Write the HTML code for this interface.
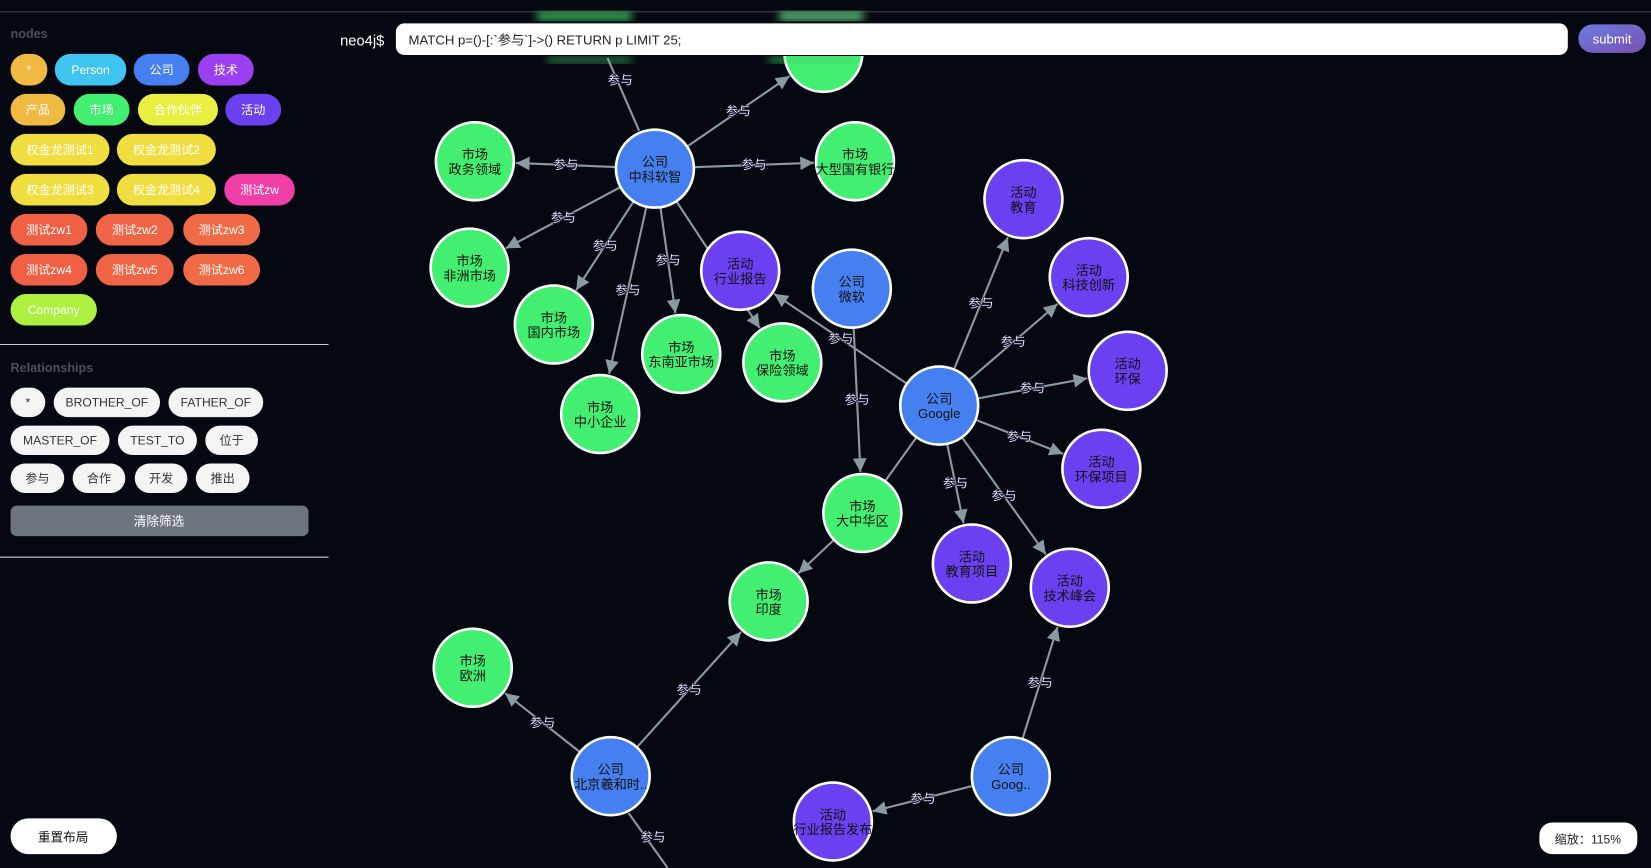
<!DOCTYPE html>
<html><head><meta charset="utf-8">
<style>
html,body{margin:0;padding:0;background:#050811;overflow:hidden}
svg{display:block}
text{font-family:"Liberation Sans","Noto Sans CJK SC",sans-serif}
</style></head>
<body>
<svg id="s" width="1651" height="868" viewBox="0 0 1568 824" xmlns="http://www.w3.org/2000/svg">
<defs>
<marker id="ar" viewBox="0 0 10 10" refX="10" refY="5" markerWidth="13" markerHeight="13" markerUnits="userSpaceOnUse" orient="auto"><path d="M0,0 L10,5 L0,10 z" fill="#8a9aa3"/></marker>
<filter id="bl"><feGaussianBlur stdDeviation="4"/></filter>
<clipPath id="cp"><rect x="0" y="53" width="1568" height="800"/></clipPath>
<linearGradient id="sg" x1="0" y1="0" x2="1" y2="1"><stop offset="0" stop-color="#6a7de0"/><stop offset="1" stop-color="#7a4fb0"/></linearGradient>
</defs>
<rect width="1568" height="824" fill="#050811"/>
<line x1="0" y1="11" x2="1568" y2="11" stroke="#2a2d3a" stroke-width="1.5"/>
<g id="edges"></g>
<g id="labels"></g>
<g id="nodes"></g>
<!-- glows -->
<rect x="510" y="11" width="90" height="8" fill="#3fd46a" filter="url(#bl)" opacity="0.9"/>
<rect x="740" y="11" width="80" height="8" fill="#6fe890" filter="url(#bl)" opacity="0.9"/>
<rect x="520" y="54" width="80" height="6" fill="#3fd46a" filter="url(#bl)" opacity="0.6"/>
<rect x="730" y="54" width="80" height="6" fill="#3fd46a" filter="url(#bl)" opacity="0.7"/>
<!-- top bar -->
<text x="323" y="43" fill="#fff" font-size="14">neo4j$</text>
<rect x="376" y="22" width="1113" height="30" rx="8" fill="#fff"/>
<text x="388" y="42" fill="#222" font-size="12.5">MATCH p=()-[:`参与`]-&gt;() RETURN p LIMIT 25;</text>
<rect x="1499" y="23" width="64" height="27" rx="13.5" fill="url(#sg)"/>
<text x="1531" y="41" fill="#fff" font-size="12.5" text-anchor="middle">submit</text>
<!-- sidebar -->
<text x="10" y="36" fill="#4a4f5a" font-size="12" font-weight="bold">nodes</text>
<g id="chips" font-size="11.5" text-anchor="middle"></g>
<line x1="0" y1="327" x2="312" y2="327" stroke="#ccc" stroke-width="1"/>
<text x="10" y="353" fill="#4a4f5a" font-size="12" font-weight="bold">Relationships</text>
<rect x="10" y="480" width="283" height="29" rx="6" fill="#6c757d"/>
<text x="151" y="499" fill="#fff" font-size="12" text-anchor="middle">清除筛选</text>
<line x1="0" y1="529" x2="312" y2="529" stroke="#ccc" stroke-width="1"/>
<rect x="10" y="777" width="101" height="34" rx="17" fill="#fff"/>
<text x="60" y="799" fill="#111" font-size="12" text-anchor="middle">重置布局</text>
<rect x="1462" y="781" width="93" height="30" rx="12" fill="#fff"/>
<text x="1508" y="801" fill="#222" font-size="11.5" text-anchor="middle">缩放：115%</text>
</svg>
<script>
var NS="http://www.w3.org/2000/svg";
function el(t,a,p,txt){var e=document.createElementNS(NS,t);for(var k in a)e.setAttribute(k,a[k]);if(txt!=null)e.textContent=txt;p.appendChild(e);return e;}
var chips=document.getElementById('chips');
var C=[
[10,45,51,'*','#f0b941'],[52,120,51,'Person','#40c4f0'],[127,180,51,'公司','#4680f0'],[188,241,51,'技术','#9b40f0'],
[10,62,89,'产品','#f0b941'],[70,123,89,'市场','#43ef70'],[131,207,89,'合作伙伴','#e8ef40'],[214,267,89,'活动','#6a40f0'],
[10,104,127,'权金龙测试1','#f0dd40'],[111,205,127,'权金龙测试2','#f0dd40'],
[10,104,165,'权金龙测试3','#f0dd40'],[111,205,165,'权金龙测试4','#f0dd40'],[213,280,165,'测试zw','#f040a8'],
[10,83,203,'测试zw1','#f06045'],[91,165,203,'测试zw2','#f06545'],[174,247,203,'测试zw3','#f06a45'],
[10,83,241,'测试zw4','#f06045'],[91,165,241,'测试zw5','#f06545'],[174,247,241,'测试zw6','#f06a45'],
[10,92,279,'Company','#aef040']];
C.forEach(function(c){el('rect',{x:c[0],y:c[2],width:c[1]-c[0],height:30,rx:15,fill:c[4]},chips);
el('text',{x:(c[0]+c[1])/2,y:c[2]+19,fill:'#fff'},chips,c[3]);});
var R=[[10,43,368,'*'],[51,152,368,'BROTHER_OF'],[160,250,368,'FATHER_OF'],
[10,104,404,'MASTER_OF'],[112,187,404,'TEST_TO'],[195,245,404,'位于'],
[10,61,440,'参与'],[69,119,440,'合作'],[128,178,440,'开发'],[186,237,440,'推出']];
R.forEach(function(c){el('rect',{x:c[0],y:c[2],width:c[1]-c[0],height:28,rx:14,fill:'#f4f4f4'},chips);
el('text',{x:(c[0]+c[1])/2,y:c[2]+18,fill:'#333'},chips,c[3]);});

var G='#43ef70',B='#4680f0',P='#6a40f0';
var N={
zk:[622,160,B,'公司','中科软智'],zw:[451,153,G,'市场','政务领域'],yh:[812,153,G,'市场','大型国有银行'],
tp:[782,50,G,'',''],fz:[446,254,G,'市场','非洲市场'],gn:[526,308,G,'市场','国内市场'],
dn:[647,336,G,'市场','东南亚市场'],zx:[570,393,G,'市场','中小企业'],hy:[703,257,P,'活动','行业报告'],
bx:[743,344,G,'市场','保险领域'],wr:[809,274,B,'公司','微软'],gg:[892,385,B,'公司','Google'],
jy:[972,189,P,'活动','教育'],kj:[1034,263,P,'活动','科技创新'],hb:[1071,352,P,'活动','环保'],
hx:[1046,445,P,'活动','环保项目'],jx:[923,535,P,'活动','教育项目'],js:[1016,558,P,'活动','技术峰会'],
dz:[819,487,G,'市场','大中华区'],yd:[730,571,G,'市场','印度'],oz:[449,634,G,'市场','欧洲'],
bj:[580,737,B,'公司','北京羲和时..'],g2:[960,737,B,'公司','Goog..'],fb:[791,780,P,'活动','行业报告发布']};
var r=37;
var E=[['zk','tp',1],['zk','zw',1],['zk','yh',1],['zk','fz',1],['zk','gn',1],['zk','zx',1],['zk','dn',1],['zk','bx',1],
['gg','hy',1],['wr','dz',1],['gg','dz',0,1],['gg','jy',1],['gg','kj',1],['gg','hb',1],['gg','hx',1],['gg','jx',1],['gg','js',1],
['dz','yd',0],['bj','yd',1],['bj','oz',1],['g2','js',1],['g2','fb',1]];
var eg=document.getElementById('edges'),lg=document.getElementById('labels'),ng=document.getElementById('nodes');
function lab(x,y){el('text',{x:x,y:y+4,'font-size':12,'font-weight':'bold','text-anchor':'middle',fill:'#fff',stroke:'#0a1030','stroke-width':0.6},lg,'参与');}
E.forEach(function(e){var a=N[e[0]],b=N[e[1]];var dx=b[0]-a[0],dy=b[1]-a[1],d=Math.sqrt(dx*dx+dy*dy);
var ux=dx/d,uy=dy/d;var x1=a[0]+ux*r,y1=a[1]+uy*r,x2=b[0]-ux*(r+2),y2=b[1]-uy*(r+2);
var at={x1:x1,y1:y1,x2:e[3]?b[0]-ux*r:x2,y2:e[3]?b[1]-uy*r:y2,stroke:'#8a9aa3','stroke-width':2};
if(!e[3])at['marker-end']='url(#ar)';el('line',at,eg);
if(e[2])lab((x1+x2)/2,(y1+y2)/2);});
el('line',{x1:577,y1:55,x2:607,y2:124,stroke:'#8a9aa3','stroke-width':2},eg);lab(589,76);
el('line',{x1:597,y1:772,x2:634,y2:824,stroke:'#8a9aa3','stroke-width':2},eg);lab(620,795);
for(var k in N){var n=N[k];var a={cx:n[0],cy:n[1],r:r,fill:n[2],stroke:'#fff','stroke-width':2.5};
if(k==='tp')a['clip-path']='url(#cp)';el('circle',a,ng);
if(n[3]){el('text',{x:n[0],y:n[1]-2,'font-size':12.5,'text-anchor':'middle',fill:'#111'},ng,n[3]);
el('text',{x:n[0],y:n[1]+12,'font-size':12.5,'text-anchor':'middle',fill:'#111'},ng,n[4]);}}
</script>
</body></html>
